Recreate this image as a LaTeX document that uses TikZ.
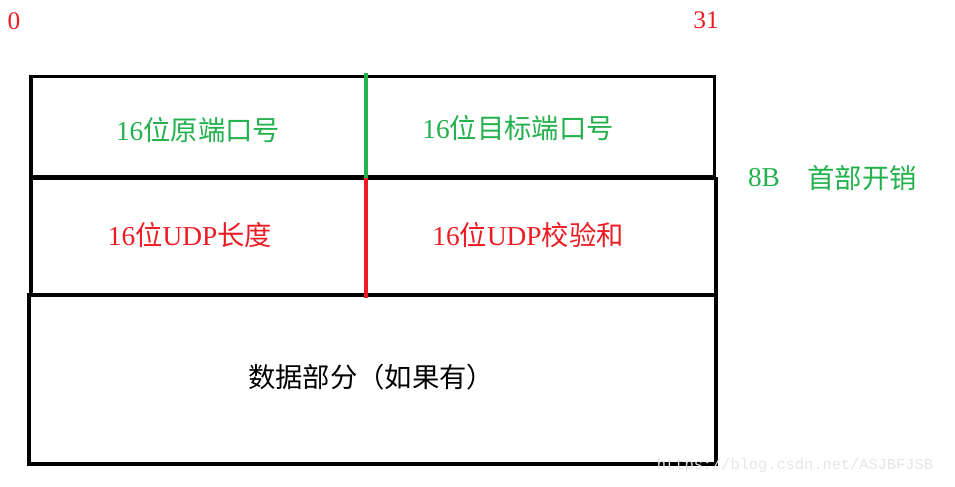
\documentclass[tikz,border=0pt]{standalone}
\usepackage{fontspec}
\setmainfont{Noto Sans CJK SC}
\newfontfamily\cjk{Noto Sans CJK SC}
\newfontfamily\lat{Liberation Serif}
\newfontfamily\wm{Liberation Mono}
\definecolor{pgreen}{RGB}{34,177,76}
\definecolor{pred}{RGB}{237,28,36}
\begin{document}
\begin{tikzpicture}[x=0.75pt,y=-0.75pt,
  frame/.style={draw=black,line width=2.4pt},
  lbl/.style={inner sep=0pt,font=\cjk\fontsize{20.5pt}{22pt}\selectfont},
  glbl/.style={lbl,text=pgreen},
  rlbl/.style={lbl,text=pred},
  num/.style={inner sep=0pt,text=pred,font=\lat\fontsize{19pt}{21pt}\selectfont}]
\useasboundingbox (0,0) rectangle (955,486);
% frames
\draw[frame] (31,76.5) rectangle (714.5,176.5);
\draw[frame] (31,178.5) rectangle (716,295);
\draw[frame] (29,295) rectangle (716,464);
% dividers
\coordinate (gtop) at (366,73);
\coordinate (gbot) at (366,177.5);
\coordinate (rbot) at (366,298);
\draw[pgreen,line width=2.5pt] (gtop) -- (gbot);
\draw[pred,line width=2.5pt] (gbot) -- (rbot);
% labels
\node[num] (n0) at (14,21) {0};
\node[num] (n31) at (706,20) {31};
\node[glbl] (src) at (198,130) {{\lat 16}位原端口号};
\node[glbl] (dst) at (518,128) {{\lat 16}位目标端口号};
\node[rlbl] (len) at (190,235) {{\lat 16}位{\lat UDP}长度};
\node[rlbl] (chk) at (528,235) {{\lat 16}位{\lat UDP}校验和};
\node[lbl] (data) at (371,377) {数据部分（如果有）};
\node[glbl] (b8) at (764,178) {{\lat 8B}};
\node[glbl] (hdr) at (862,178) {首部开销};
% watermark
\node[inner sep=0pt,text=black!10,font=\wm\fontsize{11.5pt}{12pt}\selectfont] (wm) at (795,466) {https://blog.csdn.net/ASJBFJSB};
\end{tikzpicture}
\end{document}
